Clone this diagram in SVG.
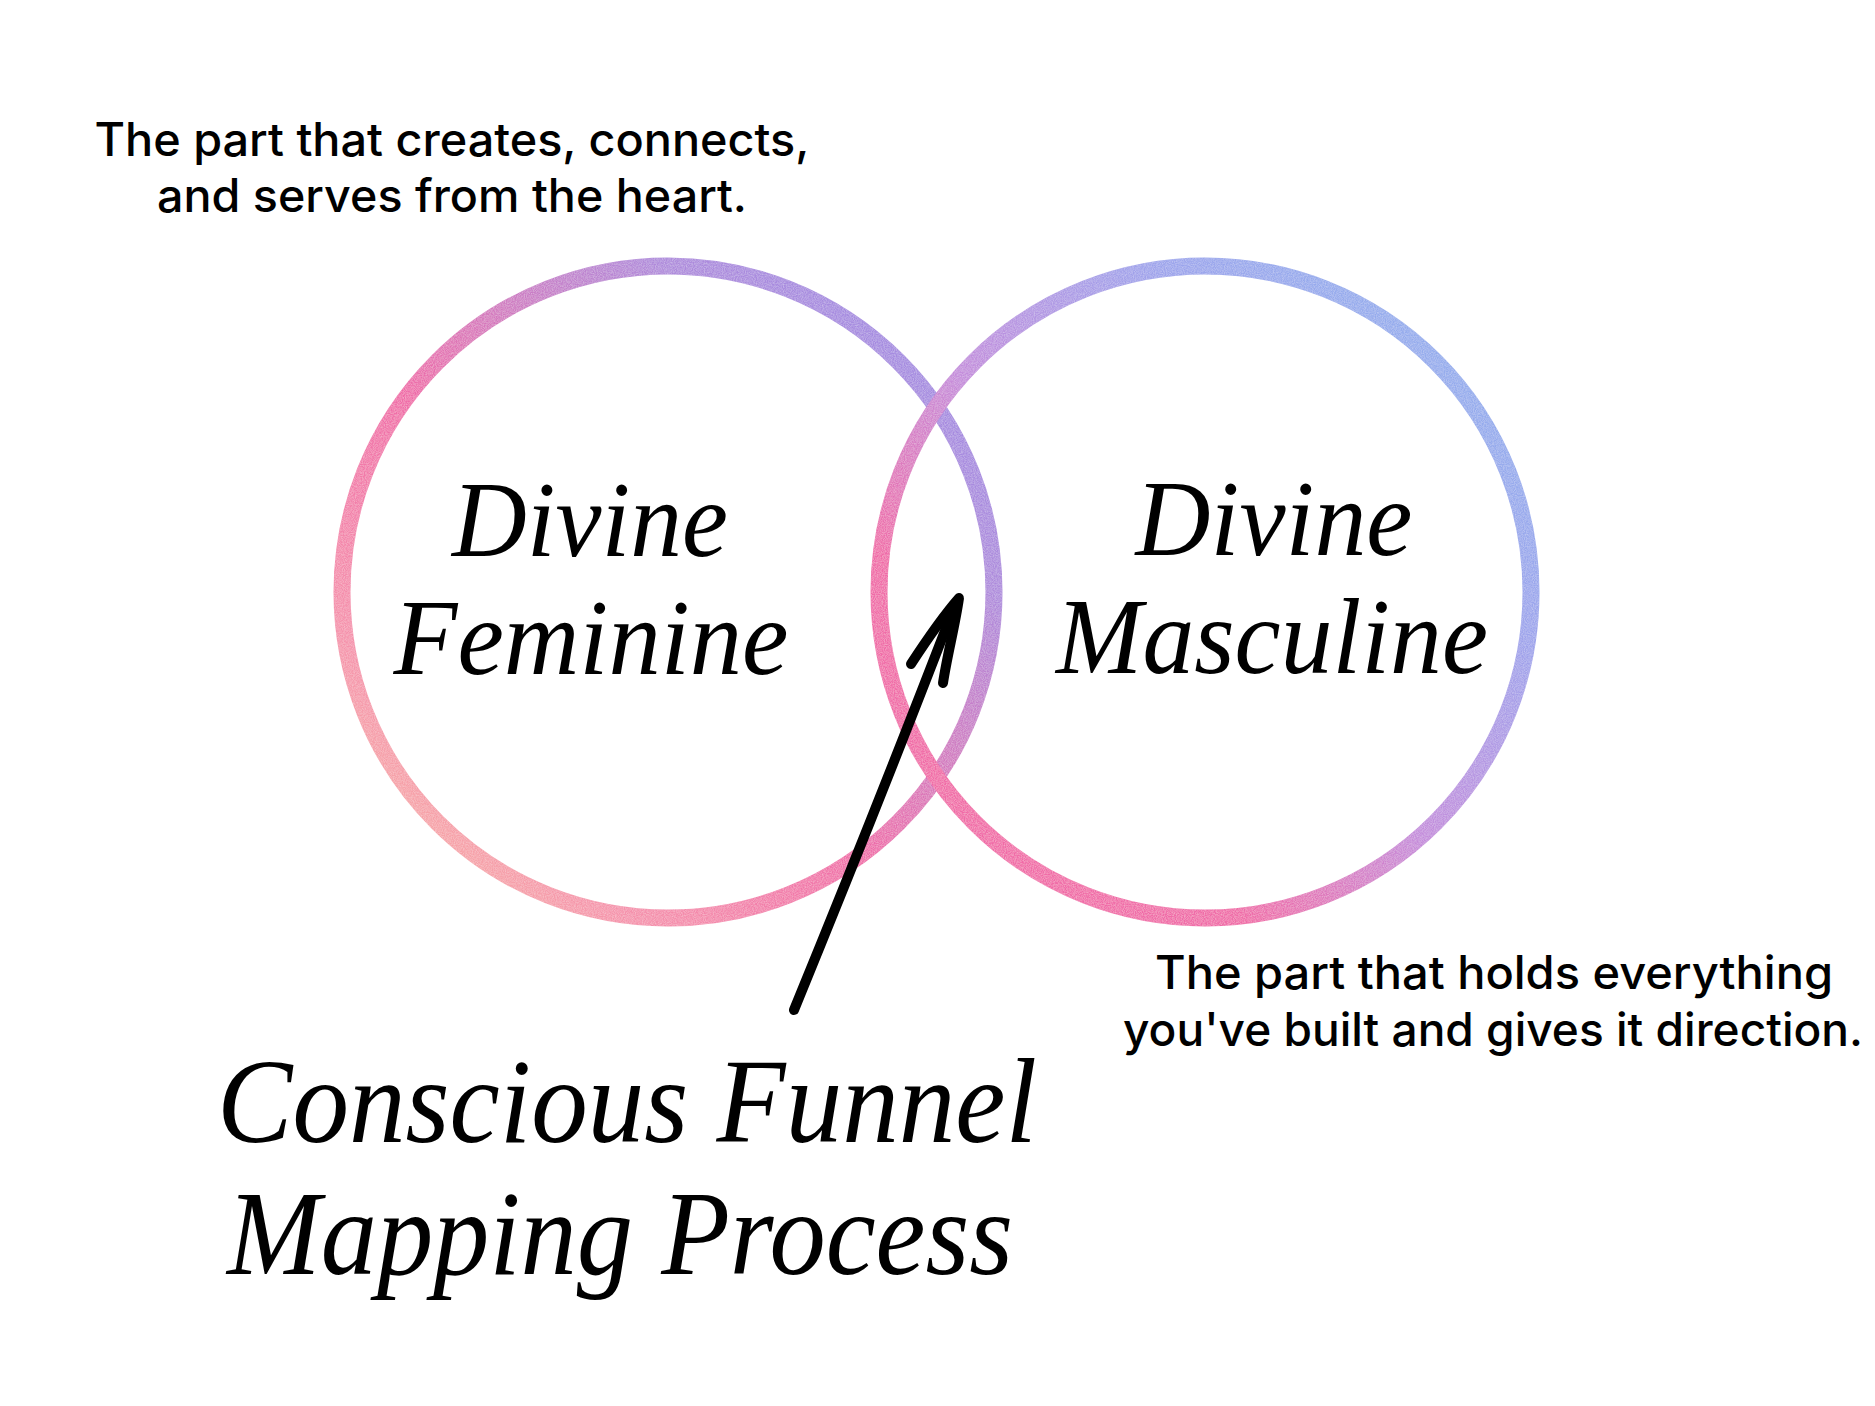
<svg xmlns="http://www.w3.org/2000/svg" width="1875" height="1406" viewBox="0 0 1875 1406">
  <style>
    .ring { fill: none; stroke-width: 17; }
    .sans { font-family: Inter, "Noto Sans", "Liberation Sans", sans-serif; font-size: 46px; font-weight: 500; fill: #000; text-anchor: middle; }
    .display { font-family: "Liberation Serif", "DejaVu Serif", serif; font-style: italic; fill: #000; text-anchor: middle; }
    .big { font-size: 107px; }
    .title { font-size: 120px; }
    .arrow { fill: none; stroke: #000; stroke-width: 10; stroke-linecap: round; stroke-linejoin: round; }
  </style>
  <defs>
    <linearGradient id="gradFem" gradientUnits="userSpaceOnUse" x1="342" y1="918" x2="994" y2="266">
      <stop offset="0" stop-color="#f9bea0"/>
      <stop offset="0.22" stop-color="#f592ac"/>
      <stop offset="0.45" stop-color="#f06aa8"/>
      <stop offset="0.75" stop-color="#ae8adc"/>
      <stop offset="1" stop-color="#9a8ce6"/>
    </linearGradient>
    <linearGradient id="gradMasc" gradientUnits="userSpaceOnUse" x1="879" y1="918" x2="1531" y2="266">
      <stop offset="0" stop-color="#f26aa6"/>
      <stop offset="0.28" stop-color="#f06aa8"/>
      <stop offset="0.48" stop-color="#c48cdc"/>
      <stop offset="0.72" stop-color="#9ca4ec"/>
      <stop offset="1" stop-color="#8cb4ee"/>
    </linearGradient>
    <filter id="grain" x="-5%" y="-5%" width="110%" height="110%">
      <feTurbulence type="fractalNoise" baseFrequency="0.9" numOctaves="2" seed="4" result="noise"/>
      <feColorMatrix in="noise" type="matrix" values="0 0 0 0 1  0 0 0 0 1  0 0 0 0 1  0 0 0 0.5 -0.15" result="speck"/>
      <feComposite in="speck" in2="SourceGraphic" operator="in" result="speckIn"/>
      <feMerge>
        <feMergeNode in="SourceGraphic"/>
        <feMergeNode in="speckIn"/>
      </feMerge>
    </filter>
  </defs>

  <rect width="1875" height="1406" fill="#ffffff"/>

  <g id="node-feminine">
    <circle class="ring" cx="668" cy="592" r="326" stroke="url(#gradFem)" filter="url(#grain)"/>
    <text class="display big" x="590" y="556" textLength="276" lengthAdjust="spacingAndGlyphs">Divine</text>
    <text class="display big" x="591" y="674" textLength="395" lengthAdjust="spacingAndGlyphs">Feminine</text>
  </g>

  <g id="node-masculine">
    <circle class="ring" cx="1205" cy="592" r="326" stroke="url(#gradMasc)" filter="url(#grain)"/>
    <text class="display big" x="1274" y="555" textLength="277" lengthAdjust="spacingAndGlyphs">Divine</text>
    <text class="display big" x="1272" y="673" textLength="432" lengthAdjust="spacingAndGlyphs">Masculine</text>
  </g>

  <g id="note-feminine">
    <text class="sans" x="452" y="156" textLength="715" lengthAdjust="spacingAndGlyphs">The part that creates, connects,</text>
    <text class="sans" x="452" y="212" textLength="590" lengthAdjust="spacingAndGlyphs">and serves from the heart.</text>
  </g>

  <g id="note-masculine">
    <text class="sans" x="1494" y="989" textLength="678" lengthAdjust="spacingAndGlyphs">The part that holds everything</text>
    <text class="sans" x="1493" y="1046" textLength="740" lengthAdjust="spacingAndGlyphs">you've built and gives it direction.</text>
  </g>

  <g id="node-process">
    <text class="display title" x="627" y="1142" textLength="820" lengthAdjust="spacingAndGlyphs">Conscious Funnel</text>
    <text class="display title" x="620" y="1274" textLength="786" lengthAdjust="spacingAndGlyphs">Mapping Process</text>
  </g>

  <g id="connectors">
    <path class="arrow" d="M 794 1010 Q 880 800 953 610"/>
    <path class="arrow" d="M 911 664 C 926 641 945 614 959 598 C 955 626 947 656 943 683"/>
  </g>
</svg>
